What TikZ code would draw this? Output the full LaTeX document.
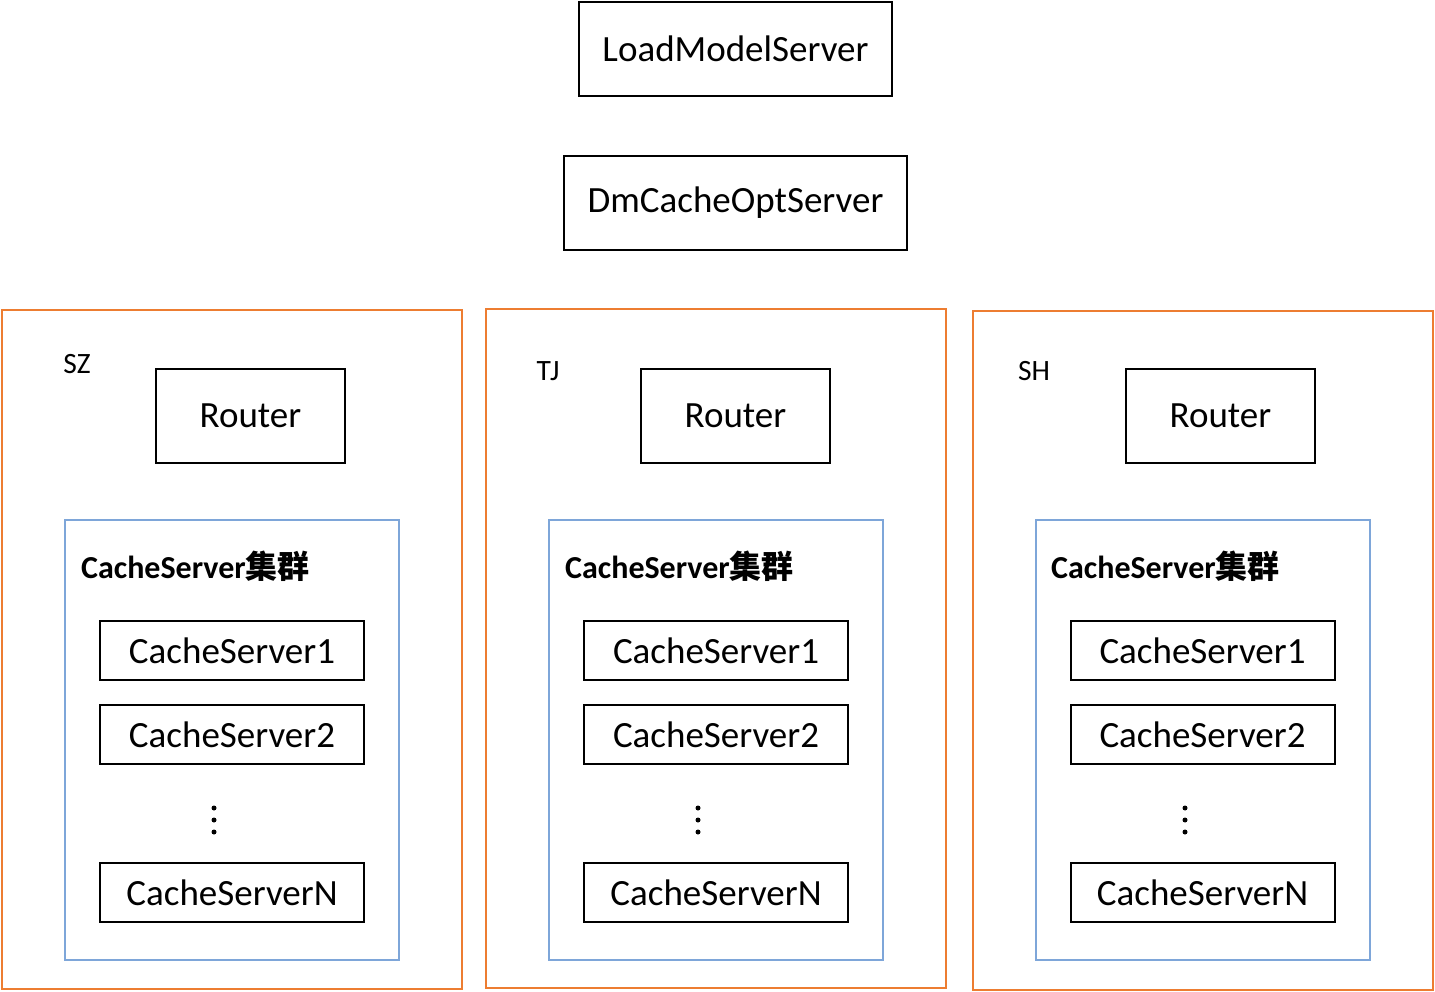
\documentclass[tikz,border=0pt]{standalone}
\usepackage{fontspec}
\setmainfont{Carlito}
\newfontfamily\cjk{Noto Sans CJK SC}
\definecolor{orangeline}{HTML}{ED7D31}
\definecolor{blueline}{HTML}{7EA6D9}
\begin{document}
\begin{tikzpicture}[x=1pt,y=-1pt,
  blk/.style={draw=black,line width=2pt,inner sep=0pt,font=\fontsize{37}{40}\selectfont},
  region/.style={draw=orangeline,line width=2pt,inner sep=0pt},
  cluster/.style={draw=blueline,line width=2pt,inner sep=0pt},
  lbl/.style={inner sep=0pt,font=\fontsize{29.5}{32}\selectfont},
  ttl/.style={inner sep=0pt,anchor=west,font=\fontsize{32}{34}\selectfont\bfseries},
  cs/.style={blk,minimum width=264pt,minimum height=59pt},
  router/.style={blk,minimum width=189pt,minimum height=94pt},
  vdot/.style={circle,fill=black,inner sep=0pt,minimum size=5pt}]
\useasboundingbox (0,0) rectangle (1435,992);
\node[blk,minimum width=313pt,minimum height=94pt] (lms) at (735.5,49) {LoadModelServer};
\node[blk,minimum width=343pt,minimum height=94pt] (dmc) at (735.5,203) {DmCacheOptServer};
\foreach \n/\rx/\ry/\cx/\bx/\tx/\px/\lx/\ly/\lab in {
  1/232/649.5/250.5/232/81/214/77/364/SZ,
  2/716/648.5/735.5/716/565/698/548/371/TJ,
  3/1202.5/650.5/1220.5/1202.5/1051/1185/1034/371/SH}{
  \node[region,minimum width=460pt,minimum height=679pt] (reg\n) at (\rx,\ry) {};
  \node[lbl] (lab\n) at (\lx,\ly) {\lab};
  \node[router] (rt\n) at (\cx,416) {Router};
  \node[cluster,minimum width=334pt,minimum height=440pt] (cl\n) at (\bx,740) {};
  \node[ttl] (tt\n) at (\tx,566) {CacheServer{\cjk\bfseries 集群}};
  \node[cs] (csa\n) at (\bx,650.5) {CacheServer1};
  \node[cs] (csb\n) at (\bx,734.5) {CacheServer2};
  \node[vdot] (da\n) at (\px,808) {};
  \node[vdot] (db\n) at (\px,820) {};
  \node[vdot] (dc\n) at (\px,832) {};
  \node[cs] (csn\n) at (\bx,892.5) {CacheServerN};
}
\end{tikzpicture}
\end{document}
